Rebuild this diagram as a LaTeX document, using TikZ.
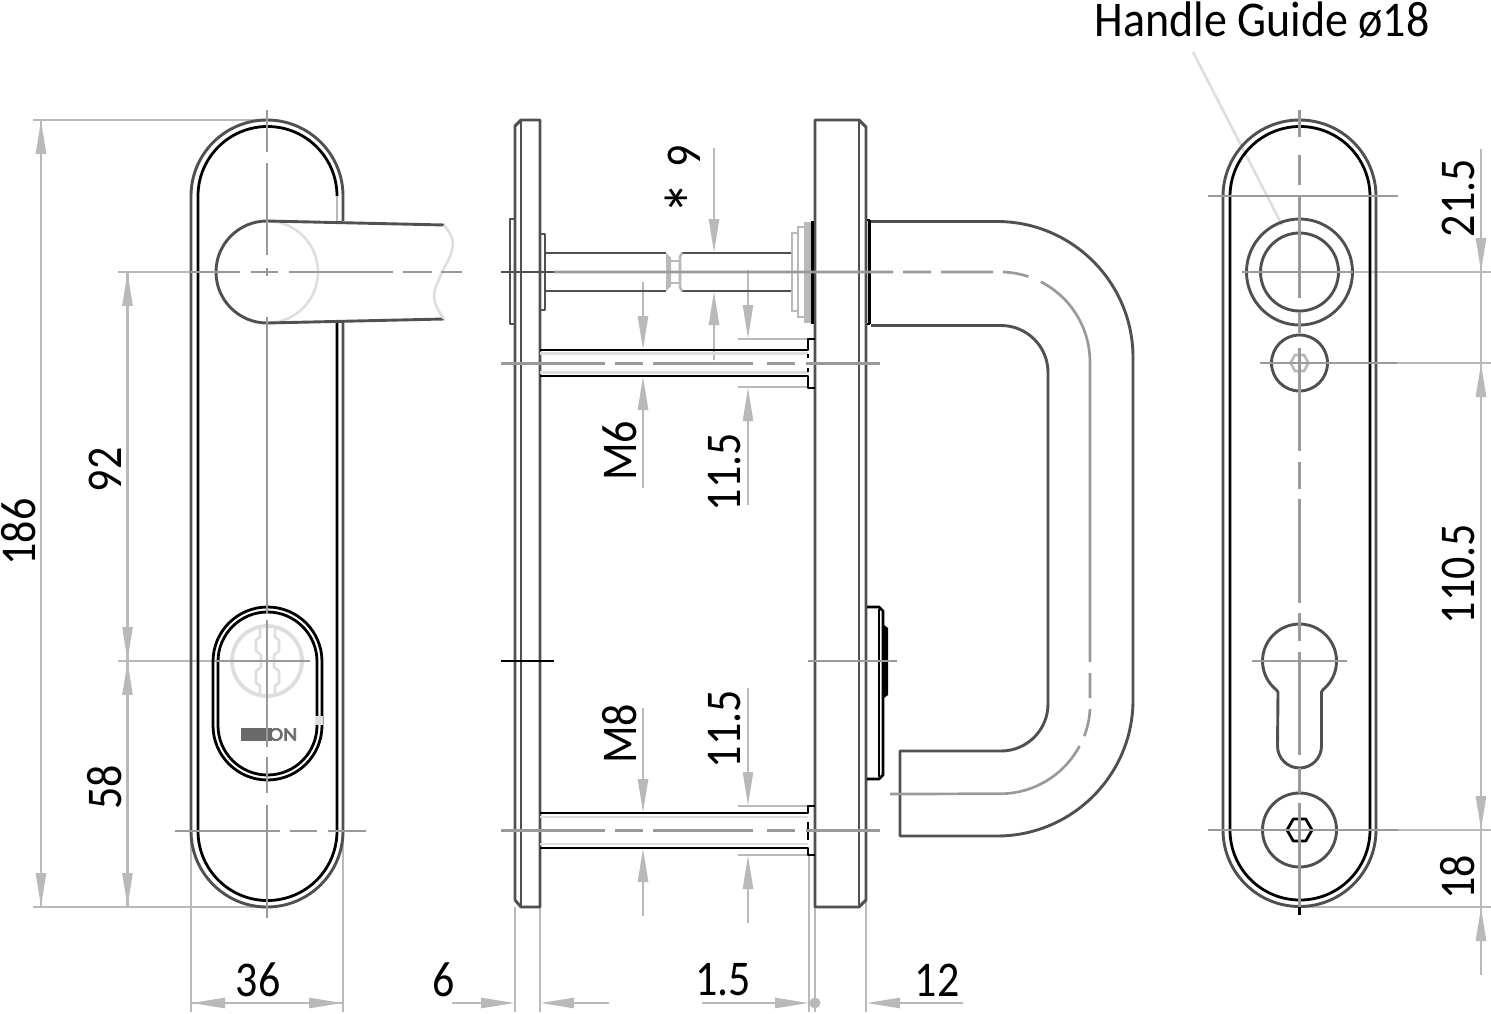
\documentclass[tikz,border=0pt]{standalone}
\usepackage{fontspec}
\usepackage{graphicx}
\setmainfont{Carlito}
\newfontfamily\logofont[FakeBold=3]{Carlito}
\usetikzlibrary{arrows.meta}
\definecolor{dk}{HTML}{505050}
\definecolor{ctr}{HTML}{9A9A9A}
\definecolor{dimc}{HTML}{B9B9B9}
\definecolor{pale}{HTML}{DEDEDE}
\tikzset{
  dkl/.style={draw=dk,line width=2.9pt,line join=round},
  blk/.style={draw=black,line width=2.8pt,line join=round},
  ctl/.style={draw=ctr,line width=2.7pt},
  dml/.style={draw=dimc,line width=2.6pt},
  pl/.style={draw=pale,line width=2.6pt},
  dmarrow/.style={draw=dimc,line width=2.6pt,-{Triangle[length=34pt,width=10pt,color=dimc]}},
  txt/.style={inner sep=0pt,font=\fontsize{50}{50}\selectfont,text=black},
}
\newcommand\lbl[5]{\node[txt,rotate=#4] (#1) at (#2,#3) {\scalebox{.88}[1]{#5}};}
\begin{document}
\begin{tikzpicture}[yscale=-1,x=1pt,y=1pt]
\useasboundingbox (0,0) rectangle (1491,1014);
\fill[white] (0,0) rectangle (1491,1014);

% ---------- extension lines
\draw[dml] (33,120) -- (258,120);
\draw[dml] (33,907) -- (260,907);
\draw[dml] (118,272) -- (190,272);
\draw[dml] (118,661) -- (215,661);
\draw[dml] (191,831) -- (191,1012);
\draw[dml] (343,831) -- (343,1012);
\draw[dml] (515,907) -- (515,1012);
\draw[dml] (540,907) -- (540,1012);
\draw[dml] (809,855) -- (809,1012);
\draw[dml] (815,907) -- (815,1012);
\draw[dml] (866,900) -- (866,1012);
\draw[dml] (738,339) -- (808,339) (738,387) -- (808,387);
\draw[dml] (738,806) -- (808,806) (738,855) -- (808,855);
\draw[dml] (1353,272) -- (1491,272);
\draw[dml] (1397,363) -- (1491,363);
\draw[dml] (1398,830) -- (1491,830);
\draw[dml] (1300,907) -- (1491,907);

% ---------- dimension arrows
\draw[dml] (41,120) -- (41,907);
\draw[dmarrow] (41,200) -- (41,120);
\draw[dmarrow] (41,800) -- (41,907);
\draw[dml] (127.5,272) -- (127.5,907);
\draw[dmarrow] (127.5,350) -- (127.5,272);
\draw[dmarrow] (127.5,600) -- (127.5,661);
\draw[dmarrow] (127.5,720) -- (127.5,661);
\draw[dmarrow] (127.5,800) -- (127.5,907);
\draw[dml] (191,1003) -- (343,1003);
\draw[dmarrow] (260,1003) -- (191,1003);
\draw[dmarrow] (280,1003) -- (343,1003);
\draw[dmarrow] (452,1003) -- (515,1003);
\draw[dmarrow] (609,1003) -- (540,1003);
\draw[dmarrow] (702,1003) -- (809,1003);
\draw[dmarrow] (963,1003) -- (866,1003);
\fill[dimc] (815,1003) circle[radius=5.5];
\draw[dmarrow] (643,282) -- (643,350);
\draw[dmarrow] (643,488) -- (643,376);
\draw[dmarrow] (643,708) -- (643,813);
\draw[dmarrow] (643,916) -- (643,848);
\draw[dmarrow] (714,148) -- (714,253);
\draw[dmarrow] (714,360) -- (714,291);
\draw[dmarrow] (748,270) -- (748,339);
\draw[dmarrow] (748,505) -- (748,387);
\draw[dmarrow] (748,688) -- (748,806);
\draw[dmarrow] (748,923) -- (748,855);
\draw[dml] (1481,149) -- (1481,975);
\draw[dmarrow] (1481,200) -- (1481,272);
\draw[dmarrow] (1481,430) -- (1481,363);
\draw[dmarrow] (1481,770) -- (1481,830);
\draw[dmarrow] (1481,975) -- (1481,907);
\draw[pl] (1193,52) -- (1282,225);

% ---------- left view: plate
\draw[dkl] (191,831) -- (191,196) arc[start angle=180,end angle=360,radius=76] -- (343,221);
\draw[dkl] (343,322) -- (343,831) arc[start angle=0,end angle=180,radius=76];
\draw[blk] (198,831) -- (198,196) arc[start angle=180,end angle=360,radius=69.5];
\draw[dml] (337,196) -- (337,221);
\draw[blk] (337,322) -- (337,831) arc[start angle=0,end angle=180,radius=69.5];
% handle
\draw[pl] (267,221) arc[start angle=270,end angle=450,radius=51];
\draw[dkl] (444,225) -- (267,221) arc[start angle=270,end angle=90,radius=51] -- (444,319);
\draw[pl] (444,225) .. controls (450,233) and (455,240) .. (452,250)
  .. controls (449,262) and (444,266) .. (441,275)
  .. controls (437,284) and (432,292) .. (435,302)
  .. controls (437,310) and (441,314) .. (444,319);
% key circle
\draw[pale,line width=3.8pt] (267,661) circle[radius=35];
\draw[pl] (260,626) -- (260,637) -- (256,640) -- (256,651) -- (261,655) -- (261,667) -- (256,671) -- (256,683) -- (260,686) -- (260,696);
\draw[pl] (275,626) -- (275,637) -- (279,640) -- (279,651) -- (274,655) -- (274,667) -- (279,671) -- (279,683) -- (275,686) -- (275,696);
% rosette
\draw[blk] (213,661.5) arc[start angle=180,end angle=360,radius=54.5] -- (322,725.5) arc[start angle=0,end angle=180,radius=54.5] -- cycle;
\draw[blk] (218,661.5) arc[start angle=180,end angle=360,radius=49.5] -- (317,725.5) arc[start angle=0,end angle=180,radius=49.5] -- cycle;
\fill[pale] (315,716) rectangle (323,725);
% logo
\fill[dk!85] (241,728) rectangle (272,741);
\node[inner sep=0pt,text=dk!85,font=\fontsize{19}{19}\logofont] (logo) at (283,734.5) {\scalebox{1.15}[1]{ON}};
% centre lines
\draw[ctl] (267,110) -- (267,152) (267,163) -- (267,255) (267,268) -- (267,276) (267,317) -- (267,613)
  (267,620) -- (267,747) (267,757) -- (267,793) (267,805) -- (267,918);
\draw[ctl] (190,272) -- (240,272) (251,272) -- (278,272) (289,272) -- (393,272) (403,272) -- (432,272) (441,272) -- (462,272);
\draw[ctl] (215,661) -- (310,661);
\draw[ctl] (175,831) -- (280,831) (290,831) -- (317,831) (328,831) -- (366,831);

% ---------- middle view: plates
\draw[dkl] (515,900) -- (515,126) -- (521,120) -- (540,120) -- (540,907) -- (521,907) -- (515,900);
\draw[dkl] (521,120) -- (521,907);
\draw[dkl] (815,120) -- (815,907) -- (859,907) -- (866,900) -- (866,127) -- (859,120) -- cycle;
\draw[dkl] (859,120) -- (859,907);
\draw[dkl] (510,219) rectangle (515,324);
\draw[dkl] (540,234) -- (545,234) -- (545,310) -- (540,310);
% spindle
\draw[dkl] (545,253) -- (666,253) (545,291) -- (666,291);
\draw[dkl] (682,253) -- (792,253) (682,291) -- (792,291);
\fill[dimc] (666,253) -- (671,258) -- (671,286) -- (666,291) -- cycle;
\draw[dml] (671,261) -- (680,261) (671,283) -- (680,283);
\draw[dml] (682,253) -- (680,257) -- (680,287) -- (682,291);
\draw[dml] (798,233) -- (792,233) -- (792,311) -- (798,311);
\draw[dml] (804,227) -- (798,227) -- (798,317) -- (804,317);
\fill[dimc] (804,222) rectangle (811,323);
\draw[black,line width=3.2pt] (812.5,221) -- (812.5,324);
% studs
\draw[pl] (540,353.5) -- (808,353.5) (540,372.5) -- (808,372.5);
\draw[blk] (540,350) -- (808,350) -- (808,339) -- (815,339);
\draw[blk] (540,376) -- (808,376) -- (808,388) -- (815,388);
\draw[pl] (540,817) -- (808,817) (540,844) -- (808,844);
\draw[blk] (540,813) -- (808,813) -- (808,806) -- (815,806);
\draw[blk] (540,848) -- (808,848) -- (808,855) -- (815,855);
\draw[black,line width=2.6pt] (808,822) -- (808,840);
\draw[black,line width=2.6pt] (808,354) -- (808,358) (808,368) -- (808,372);
% handle flange and handle
\draw[black,line width=3.2pt] (869.5,220) -- (869.5,324);
\draw[black,line width=2.4pt] (867,220) -- (869.5,220) (867,324) -- (869.5,324);
\draw[dkl] (871,221.5) -- (997,221.5) arc[start angle=270,end angle=360,radius=136] -- (1133,700)
  arc[start angle=0,end angle=90,radius=136] -- (900,836) -- (900,751) -- (1001,751)
  arc[start angle=90,end angle=0,radius=47] -- (1048,372.5)
  arc[start angle=360,end angle=270,radius=47] -- (871,325.5);
% lock part
\draw[blk] (867,607) -- (879,607) -- (883,611) -- (883,775) -- (879,779) -- (867,779);
\draw[black,line width=2.4pt] (879,609) -- (879,777);
\fill[black] (884,625) -- (888,628) -- (888,695) -- (884,698) -- cycle;
% centre lines
\draw[draw=dk,line width=2.9pt] (501,272) -- (554,272);
\draw[ctl] (554,272) -- (893,272) (903,272) -- (931,272) (941,272) -- (993,272)
  (1003,272) arc[start angle=272,end angle=288.5,radius=90]
  (1040.8,281.8) arc[start angle=297,end angle=360,radius=90] -- (1090,662)
  (1090,673) -- (1090,698)
  (1090,709) arc[start angle=3,end angle=20.7,radius=90]
  (1079.5,746) arc[start angle=28,end angle=90,radius=90] -- (890,794);
\draw[ctl] (501,363.5) -- (605,363.5) (615,363.5) -- (643,363.5) (653,363.5) -- (753,363.5) (767,363.5) -- (795,363.5) (806,363.5) -- (880,363.5);
\draw[ctl] (501,830.5) -- (605,830.5) (615,830.5) -- (643,830.5) (653,830.5) -- (753,830.5) (767,830.5) -- (795,830.5) (806,830.5) -- (880,830.5);
\draw[draw=black,line width=2.4pt] (501,661) -- (554,661);
\draw[ctl] (808,661) -- (897,661);

% ---------- right view
\draw[dkl] (1223,830) -- (1223,196.5) arc[start angle=180,end angle=360,radius=76.5] -- (1376,830) arc[start angle=0,end angle=180,radius=76.5];
\draw[blk] (1230,830) -- (1230,196.5) arc[start angle=180,end angle=360,radius=70] -- (1370,830) arc[start angle=0,end angle=180,radius=70];
\draw[dkl] (1299.5,272) circle[radius=53];
\draw[dkl] (1299.5,272) circle[radius=39];
\draw[dkl] (1299.5,363) circle[radius=28];
\draw[dml] (1290.5,363) -- (1295,355) -- (1304,355) -- (1308.5,363) -- (1304,371) -- (1295,371) -- cycle;
\draw[dkl] (1278,692) -- (1276,689.6) arc[start angle=129.5,end angle=410.5,radius=37] -- (1321.5,692) -- (1321.5,746)
  arc[start angle=0,end angle=180,radius=22] -- cycle;
\draw[dkl] (1299.5,830) circle[radius=37];
\draw[blk] (1287,830) -- (1293.25,819) -- (1305.75,819) -- (1312,830) -- (1305.75,841) -- (1293.25,841) -- cycle;
\draw[ctl] (1299.5,110) -- (1299.5,137) (1299.5,155) -- (1299.5,185) (1299.5,197) -- (1299.5,298)
  (1299.5,312) -- (1299.5,333) (1299.5,348) -- (1299.5,451) (1299.5,462) -- (1299.5,489)
  (1299.5,499) -- (1299.5,603) (1299.5,613) -- (1299.5,641) (1299.5,652) -- (1299.5,755)
  (1299.5,768) -- (1299.5,793) (1299.5,803) -- (1299.5,907);
\draw[black,line width=2.6pt] (1299.5,907) -- (1299.5,915);
\draw[ctl] (1208,196) -- (1398,196);
\draw[ctl] (1242,272) -- (1353,272);
\draw[ctl] (1260,363) -- (1397,363);
\draw[ctl] (1252,661) -- (1347,661);
\draw[ctl] (1208,830) -- (1398,830);

% ---------- labels
\lbl{t186}{19}{532}{90}{186}
\lbl{t92}{105}{470}{90}{92}
\lbl{t58}{105}{787}{90}{58}
\lbl{t36}{258}{980}{0}{36}
\lbl{t6}{444}{980}{0}{6}
\lbl{t15}{723}{980}{0}{1.5}
\lbl{t12}{937}{980}{0}{12}
\lbl{tM6}{620}{451}{90}{M6}
\lbl{tM8}{620}{734}{90}{M8}
\lbl{tu}{725}{472}{90}{11.5}
\lbl{tl}{725}{729}{90}{11.5}
\lbl{t9}{691}{180}{90}{\raisebox{-17pt}{\fontsize{74}{74}\selectfont *}\,\,9}
\lbl{t215}{1458}{198}{90}{21.5}
\lbl{t1105}{1458}{574}{90}{110.5}
\lbl{t18}{1458}{877}{90}{18}
\node[txt] (tH) at (1262,20) {\scalebox{.92}[1]{Handle Guide ø18}};
\end{tikzpicture}
\end{document}
